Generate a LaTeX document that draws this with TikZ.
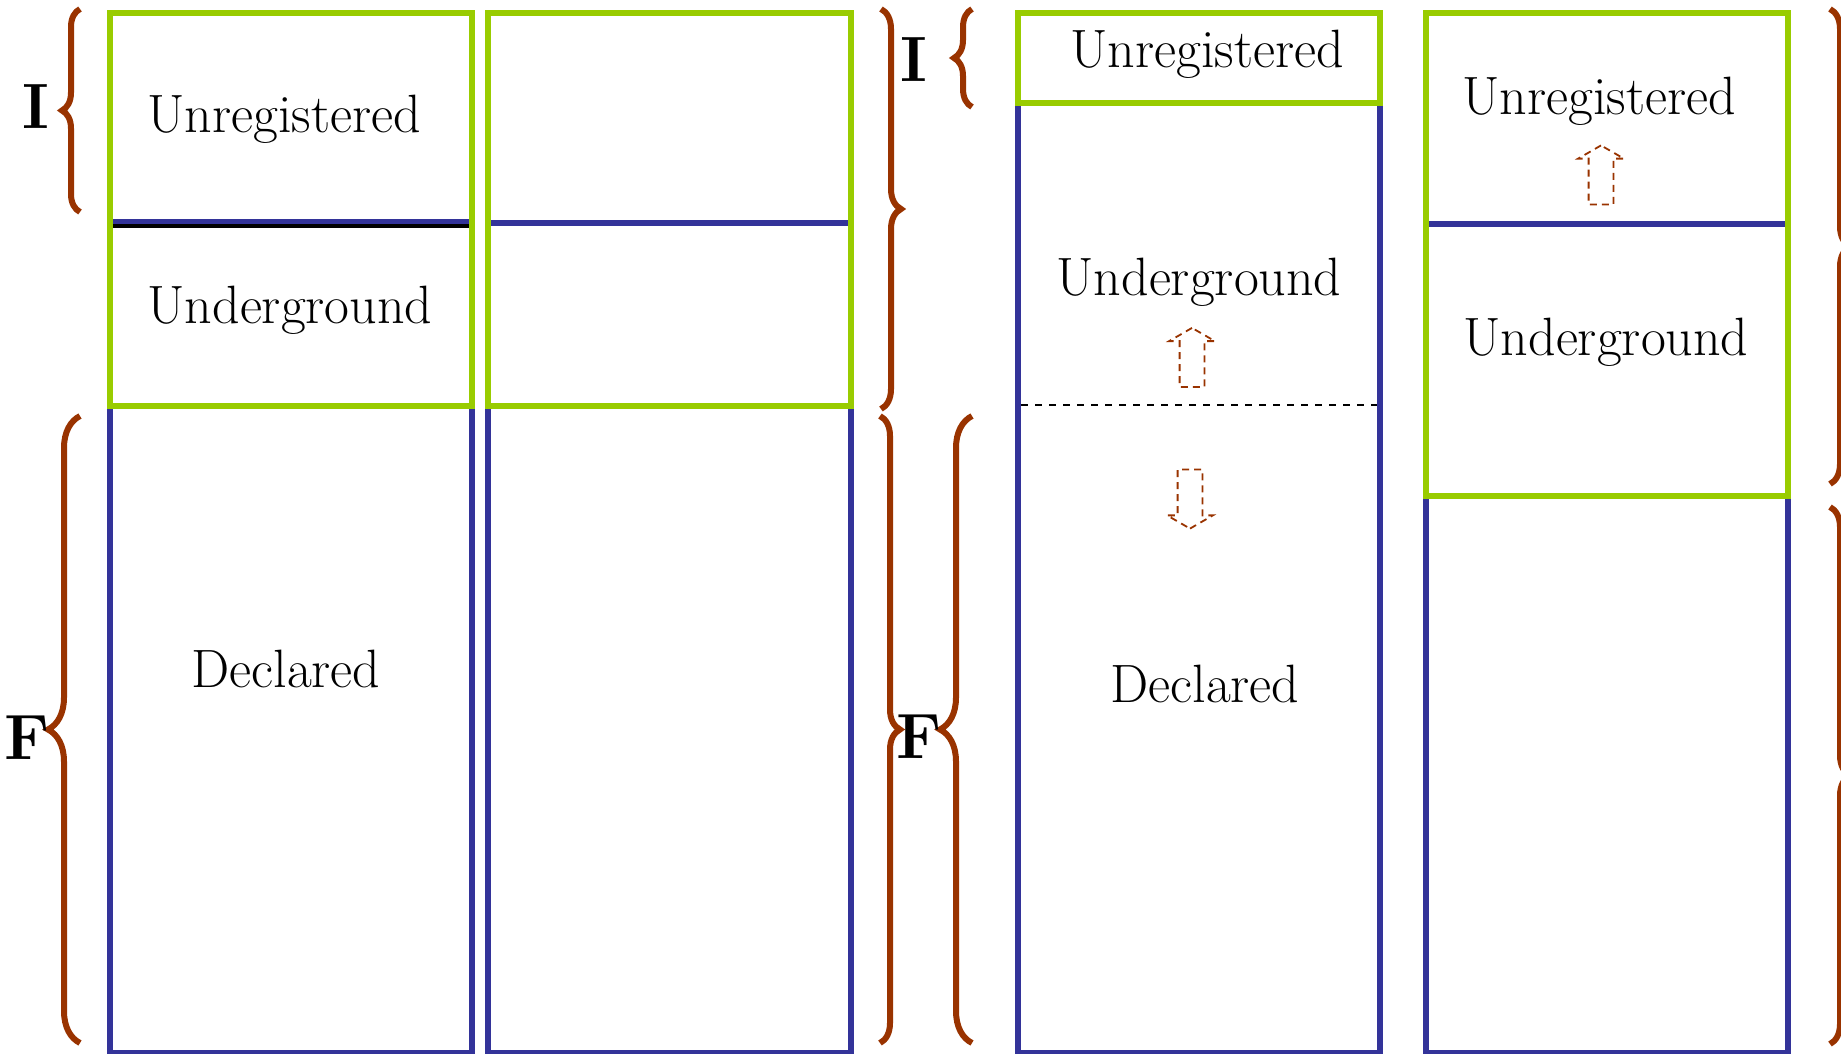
\documentclass[tikz,border=0pt]{standalone}
\usepackage{fontspec}
\usetikzlibrary{decorations.pathreplacing}
\usetikzlibrary{shapes.arrows}
\definecolor{leaf}{HTML}{99CC00}
\definecolor{ink}{HTML}{333399}
\definecolor{rust}{HTML}{993300}
\tikzset{
  x = 0.5pt,
  y = 0.5pt,
  greenbox/.style = {draw=leaf, line width=2.7pt},
  bluebox/.style = {draw=ink, line width=2.8pt},
  lbl/.style = {font=\fontsize{27}{30}\selectfont, anchor=base, inner sep=0pt},
  letter/.style = {font=\fontsize{32}{36}\selectfont\bfseries, anchor=base, inner sep=0pt},
  curly/.style = {draw=rust, line width=3pt, decorate, decoration={brace, amplitude=#1}},
  shiftarrow/.style = {single arrow, draw=rust, line width=0.9pt,
    dash pattern=on 3.5pt off 2.5pt, minimum height=29.5pt,
    inner xsep=0pt, inner ysep=5.75pt,
    single arrow head extend=5.25pt, single arrow tip angle=120},
}

\begin{document}
\begin{tikzpicture}
    \useasboundingbox (0,0) rectangle (1841,-1054);
    \clip (0,0) rectangle (1841,-1054);
    % first pair of columns
    \draw [bluebox, line width=3.2pt] (110,-222) rectangle (472,-1053);
    \draw [black, line width=1.6pt] (113,-226) -- (469,-226);
    \draw [greenbox] (110,-13) rectangle (472,-406);
    \draw [bluebox] (488,-223) rectangle (851,-1053);
    \draw [greenbox] (488,-13) rectangle (851,-406);
    \node [lbl] (unreg1) at (284,-133) {Unregistered};
    \node [lbl] (under1) at (290,-323) {Underground};
    \node [lbl] (decl1) at (286,-687) {Declared};
    % second pair of columns
    \draw [bluebox] (1018,-103) rectangle (1380,-1053);
    \draw [greenbox] (1018,-13) rectangle (1380,-103);
    \draw [black, line width=0.9pt, dash pattern=on 3.6pt off 3.4pt] (1021,-405) -- (1377,-405);
    \draw [bluebox] (1426,-224) rectangle (1788,-1053);
    \draw [greenbox] (1426,-13) rectangle (1788,-496);
    \node [lbl] (unreg3) at (1207,-68) {Unregistered};
    \node [lbl] (under3) at (1199,-295) {Underground};
    \node [lbl] (decl3) at (1205,-702) {Declared};
    \node [lbl] (unreg4) at (1599,-114) {Unregistered};
    \node [lbl] (under4) at (1606,-355) {Underground};
    \node [shiftarrow, rotate=90] (up3) at (1192,-361) {};
    \node [shiftarrow, rotate=-90] (down3) at (1190,-495.5) {};
    \node [shiftarrow, rotate=90] (up4) at (1601,-178.5) {};
    % braces and letters
    \draw [curly=9pt] (80,-212) -- (80,-9);
    \draw [curly=16pt] (80,-1043) -- (80,-416);
    \node [letter] (I1) at (36,-128) {I};
    \node [letter] (F1) at (27,-759) {F};
    \draw [curly=10pt] (881,-9) -- (881,-409);
    \draw [curly=10pt] (880,-416) -- (880,-1043);
    \draw [curly=9pt] (972,-107) -- (972,-9);
    \draw [curly=16pt] (972,-1043) -- (972,-416);
    \node [letter] (I2) at (914,-82) {I};
    \node [letter] (F2) at (919,-758) {F};
    \draw [curly=10pt] (1830,-9) -- (1830,-484);
    \draw [curly=10pt] (1830,-507) -- (1830,-1044);
\end{tikzpicture}
\end{document}
